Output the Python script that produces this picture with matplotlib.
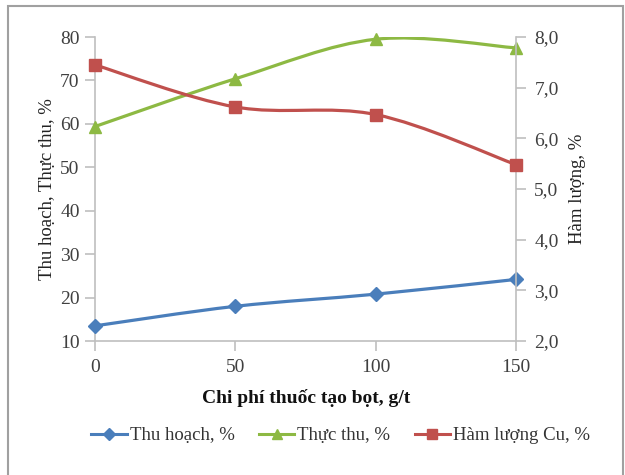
import numpy as np
import matplotlib
matplotlib.use("Agg")
import matplotlib.pyplot as plt
from matplotlib.path import Path
from matplotlib.lines import Line2D
import matplotlib.patches as patches

plt.rcParams['font.family'] = ['Liberation Serif', 'DejaVu Serif']

# data
chi_phi = [0, 50, 100, 150]
thu_hoach = [13.5, 18.0, 20.8, 24.2]
thuc_thu = [59.4, 70.4, 79.5, 77.5]
ham_luong_cu = [7.45, 6.62, 6.47, 5.48]

c_blue = '#4A7EBB'
c_green = '#8DB943'
c_red = '#C0504D'


def smooth_path(ax, xs, ys, color):
    # Excel-like smoothed line: cubic bezier through the points (Catmull-Rom handles)
    pts = np.column_stack([xs, ys]).astype(float)
    t = 1.0 / 6.0
    verts = [tuple(pts[0])]
    codes = [Path.MOVETO]
    n = len(pts)
    for i in range(n - 1):
        p0 = pts[i - 1] if i > 0 else pts[i]
        p1 = pts[i]
        p2 = pts[i + 1]
        p3 = pts[i + 2] if i + 2 < n else pts[i + 1]
        c1 = p1 + (p2 - p0) * t
        c2 = p2 - (p3 - p1) * t
        verts += [tuple(c1), tuple(c2), tuple(p2)]
        codes += [Path.CURVE4] * 3
    patch = patches.PathPatch(Path(verts, codes), facecolor='none', edgecolor=color,
                              lw=2.3, zorder=2)
    ax.add_patch(patch)


fig = plt.figure(figsize=(6.25, 4.75), dpi=100)
ax = fig.add_axes([0.152, 0.282, 0.674, 0.64])
ax2 = ax.twinx()

smooth_path(ax, chi_phi, thu_hoach, c_blue)
smooth_path(ax, chi_phi, thuc_thu, c_green)
smooth_path(ax2, chi_phi, ham_luong_cu, c_red)

ax.plot(chi_phi, thu_hoach, color=c_blue, marker='D', ms=7,
        ls='none', zorder=3, clip_on=False)
ax.plot(chi_phi, thuc_thu, color=c_green, marker='^', ms=9,
        ls='none', zorder=3, clip_on=False)
ax2.plot(chi_phi, ham_luong_cu, color=c_red, marker='s', ms=9,
         ls='none', zorder=3, clip_on=False)

ax.set_xlim(0, 150)
ax.set_ylim(10, 80)
ax2.set_ylim(2, 8)
ax.set_xticks(chi_phi)
ax.set_yticks(range(10, 81, 10))
ax2.set_yticks(np.arange(2, 8.1, 1))
ax2.set_yticklabels([f'{v:.1f}'.replace('.', ',') for v in np.arange(2, 8.1, 1)])

for a in (ax, ax2):
    for s in a.spines.values():
        s.set_color('#BFBFBF')
        s.set_linewidth(1.2)
    a.spines['top'].set_visible(False)
    a.tick_params(colors='#BFBFBF', labelcolor='#404040', labelsize=14, length=7, width=1.2)
ax.spines['right'].set_visible(False)
ax2.spines['left'].set_visible(False)
ax2.spines['bottom'].set_visible(False)
ax.tick_params(axis='x', pad=6)
ax.tick_params(axis='y', pad=4)
ax2.tick_params(axis='y', pad=6)

ax.set_xlabel('Chi phí thuốc tạo bọt, g/t', fontsize=14, fontweight='bold', color='#111111', labelpad=9)
ax.set_ylabel('Thu hoạch, Thực thu, %', fontsize=13.5, color='#222222', labelpad=3)
ax2.set_ylabel('Hàm lượng, %', fontsize=13.5, color='#222222', labelpad=7)

handles = [Line2D([], [], color=c_blue, lw=2.2, marker='D', ms=6),
           Line2D([], [], color=c_green, lw=2.2, marker='^', ms=7),
           Line2D([], [], color=c_red, lw=2.2, marker='s', ms=7)]
fig.legend(handles, ['Thu hoạch, %', 'Thực thu, %', 'Hàm lượng Cu, %'],
           loc='center', bbox_to_anchor=(0.545, 0.083), ncol=3, frameon=False,
           fontsize=13.5, handlelength=1.9, handletextpad=0.15, columnspacing=1.3,
           labelcolor='#333333')

fig.patches.append(patches.Rectangle((0.0128, -0.02), 0.984, 1.007, transform=fig.transFigure,
                                     fill=False, edgecolor='#A0A0A0', lw=1.5))

fig.savefig('out.png', dpi=100)
